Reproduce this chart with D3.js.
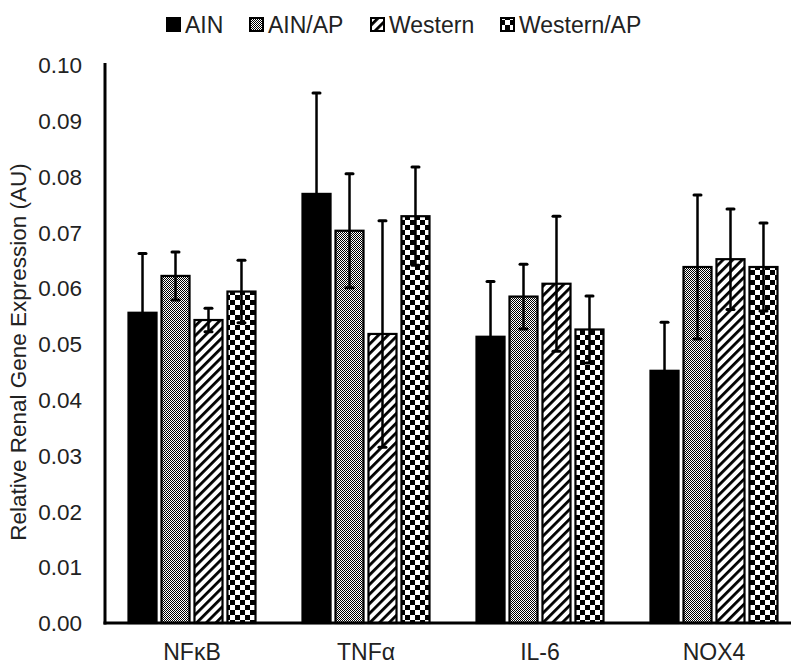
<!DOCTYPE html>
<html><head><meta charset="utf-8">
<script src="https://cdn.jsdelivr.net/npm/d3@7"></script>
<style>
html,body{margin:0;padding:0;background:#fff;}
svg{display:block;font-family:"Liberation Sans",Arial,sans-serif;}
</style></head>
<body>
<svg id="chart" width="791" height="665"></svg>
<script>
const categories = ["NFκB", "TNFα", "IL-6", "NOX4"];
const seriesNames = ["AIN", "AIN/AP", "Western", "Western/AP"];
const ainMeans       = [0.0556, 0.0769, 0.0513, 0.0452];
const ainApMeans     = [0.0622, 0.0703, 0.0585, 0.0638];
const westernMeans   = [0.0543, 0.0518, 0.0608, 0.0652];
const westernApMeans = [0.0594, 0.0729, 0.0526, 0.0638];
const ainErr         = [0.0106, 0.0181, 0.0099, 0.0087];
const ainApErr       = [0.0043, 0.0102, 0.0058, 0.0129];
const westernErr     = [0.0021, 0.0203, 0.0121, 0.0090];
const westernApErr   = [0.0056, 0.0088, 0.0060, 0.0079];
const yTicks = [0, 0.01, 0.02, 0.03, 0.04, 0.05, 0.06, 0.07, 0.08, 0.09, 0.10];
const yLabel = "Relative Renal Gene Expression (AU)";

const means = [ainMeans, ainApMeans, westernMeans, westernApMeans];
const errs = [ainErr, ainApErr, westernErr, westernApErr];
const fills = ["#000", "url(#pFine)", "url(#pStripe)", "url(#pCheck)"];

const svg = d3.select("#chart");
const defs = svg.append("defs");
// fine checker
const pf = defs.append("pattern").attr("id","pFine").attr("patternUnits","userSpaceOnUse").attr("width",2).attr("height",2);
pf.append("rect").attr("width",2).attr("height",2).attr("fill","#fff");
pf.append("rect").attr("width",1).attr("height",1).attr("fill","#000");
pf.append("rect").attr("x",1).attr("y",1).attr("width",1).attr("height",1).attr("fill","#000");
// stripes
const ps = defs.append("pattern").attr("id","pStripe").attr("patternUnits","userSpaceOnUse").attr("width",6.8).attr("height",6.8).attr("patternTransform","rotate(45)");
ps.append("rect").attr("width",6.8).attr("height",6.8).attr("fill","#fff");
ps.append("rect").attr("width",2.8).attr("height",6.8).attr("fill","#000");
// checkerboard
const pc = defs.append("pattern").attr("id","pCheck").attr("patternUnits","userSpaceOnUse").attr("width",10).attr("height",10);
pc.append("rect").attr("width",10).attr("height",10).attr("fill","#fff");
pc.append("rect").attr("width",5).attr("height",5).attr("fill","#000");
pc.append("rect").attr("x",5).attr("y",5).attr("width",5).attr("height",5).attr("fill","#000");

const x0 = 105, x1 = 801, yTop = 65, yBot = 623;
const x = d3.scaleBand().domain(categories).range([x0, x1]).paddingInner(0).paddingOuter(0);
const xs = d3.scaleBand().domain(seriesNames).range([0, 127]).paddingInner(0.15).paddingOuter(0);
const y = d3.scaleLinear().domain([0, 0.1]).range([yBot, yTop]);

// y tick labels
svg.append("g").selectAll("text").data(yTicks).join("text")
  .attr("x", 82).attr("y", d => y(d)).attr("dy","0.36em")
  .attr("text-anchor","end").attr("font-size",22.5).attr("fill","#222")
  .text(d => d3.format(".2f")(d));

// bars
const groupOffset = (x.bandwidth() - 127) / 2;
const g = svg.append("g");
seriesNames.forEach((s, si) => {
  const data = categories.map((c, ci) => ({c, v: means[si][ci], e: errs[si][ci]}));
  g.append("g").selectAll("rect").data(data).join("rect")
    .attr("x", d => x(d.c) + groupOffset + xs(s))
    .attr("y", d => y(d.v))
    .attr("width", xs.bandwidth())
    .attr("height", d => y(0) - y(d.v))
    .attr("fill", fills[si]).attr("stroke","#000").attr("stroke-width",2.2);
  const eg = g.append("g").attr("stroke","#000");
  eg.selectAll("line.v").data(data).join("line").attr("class","v")
    .attr("x1", d => x(d.c) + groupOffset + xs(s) + xs.bandwidth()/2)
    .attr("x2", d => x(d.c) + groupOffset + xs(s) + xs.bandwidth()/2)
    .attr("y1", d => y(d.v - d.e)).attr("y2", d => y(d.v + d.e))
    .attr("stroke-width", 2.5);
  ["+", "-"].forEach(sign => {
    eg.selectAll("line.c"+(sign==="+"?"p":"m")).data(data).join("line").attr("class","c"+(sign==="+"?"p":"m"))
      .attr("x1", d => x(d.c) + groupOffset + xs(s) + xs.bandwidth()/2 - 3.5)
      .attr("x2", d => x(d.c) + groupOffset + xs(s) + xs.bandwidth()/2 + 3.5)
      .attr("y1", d => y(sign==="+" ? d.v + d.e : d.v - d.e))
      .attr("y2", d => y(sign==="+" ? d.v + d.e : d.v - d.e))
      .attr("stroke-width", 3).attr("stroke-linecap","round");
  });
});

// axes lines
svg.append("line").attr("x1",x0).attr("x2",x0).attr("y1",yTop-2).attr("y2",yBot+1.5).attr("stroke","#000").attr("stroke-width",3);
svg.append("line").attr("x1",x0-1.5).attr("x2",791).attr("y1",yBot).attr("y2",yBot).attr("stroke","#000").attr("stroke-width",3);

// category labels
svg.append("g").selectAll("text").data(categories).join("text")
  .attr("x", d => x(d) + x.bandwidth()/2).attr("y", 660)
  .attr("text-anchor","middle").attr("font-size",23).attr("fill","#222")
  .text(d => d);

// y axis title
svg.append("text").attr("transform","translate(26,352) rotate(-90)")
  .attr("text-anchor","middle").attr("font-size",22.5).attr("fill","#222").text(yLabel);

// legend
const legX = [166, 249, 370, 500];
const lg = svg.append("g");
seriesNames.forEach((s, i) => {
  lg.append("rect").attr("x", legX[i]+1).attr("y", 18).attr("width", 13).attr("height", 13)
    .attr("fill", fills[i]).attr("stroke","#000").attr("stroke-width",2);
  lg.append("text").attr("x", legX[i] + 19).attr("y", 33).attr("font-size",23).attr("fill","#222").text(s);
});
</script>
</body></html>
